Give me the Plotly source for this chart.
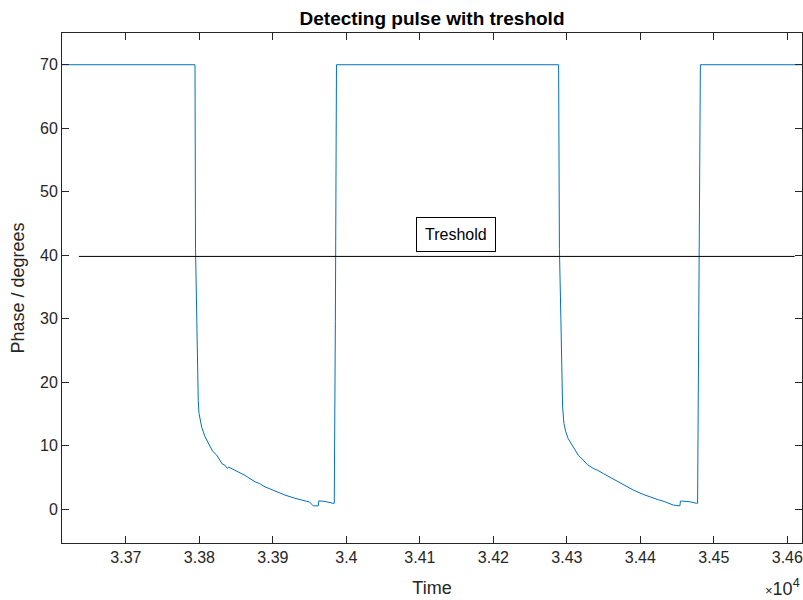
import plotly.graph_objects as go

# ---- data ----
time = [33600, 33794.0, 33794.7, 33796.3, 33797.6, 33798.4, 33799.4, 33801.0, 33803.1, 33807.6,
        33814.4, 33818.0, 33823.5, 33829.0, 33831.0, 33834.8, 33838.0, 33840.0, 33848.4, 33855.0,
        33862.0, 33875.6, 33882.0, 33889.2, 33902.8, 33916.4, 33930.0, 33937.0, 33943.6, 33950.0,
        33954.9, 33961.7, 33962.5, 33964.0, 33970.8, 33982.1, 33983.5, 33985.0, 33986.5,
        34288.8, 34289.9, 34291.9, 34292.9, 34294.2, 34296.0, 34298.5, 34301.8, 34311.0, 34316.0,
        34322.2, 34328.0, 34335.9, 34342.0, 34349.5, 34363.1, 34370.0, 34376.7, 34390.3, 34403.9,
        34417.5, 34425.0, 34433.4, 34444.7, 34453.8, 34454.6, 34456.1, 34467.4, 34476.5, 34477.9,
        34479.5, 34481.7, 34640]
phase = [70.0, 70.0, 41.0, 30.0, 20.3, 17.1, 15.1, 13.8, 12.9, 11.4,
         9.8, 9.1, 8.5, 7.4, 7.1, 6.9, 6.4, 6.6, 6.1, 5.8,
         5.3, 4.3, 4.0, 3.5, 2.8, 2.2, 1.7, 1.5, 1.3, 1.1,
         0.5, 0.5, 1.3, 1.3, 1.2, 0.9, 0.9, 29.5, 70.0,
         70.0, 41.0, 30.0, 20.3, 16.1, 13.5, 12.2, 11.1, 9.3, 8.4,
         7.7, 7.0, 6.4, 6.1, 5.6, 4.7, 4.3, 3.8, 3.0, 2.3,
         1.7, 1.45, 1.15, 0.63, 0.5, 1.26, 1.26, 1.15, 0.9, 0.9,
         30.0, 70.0, 70.0]

thresh_time = [33636, 34610]
thresh_value = [39.8, 39.8]

xtick_vals = [33700, 33800, 33900, 34000, 34100, 34200, 34300, 34400, 34500, 34600]
xtick_text = ["3.37", "3.38", "3.39", "3.4", "3.41", "3.42", "3.43", "3.44", "3.45", "3.46"]
ytick_vals = [0, 10, 20, 30, 40, 50, 60, 70]

label_time, label_value, label_text = 34149, 43.3, "Treshold"

FONT = "Liberation Sans, Arial, Helvetica, sans-serif"
AX = "#262626"

fig = go.Figure()
fig.add_trace(go.Scatter(x=time, y=phase, mode="lines",
                         line=dict(color="#0072BD", width=1), showlegend=False))
fig.add_trace(go.Scatter(x=thresh_time, y=thresh_value, mode="lines",
                         line=dict(color="#000000", width=1), showlegend=False))

fig.add_annotation(x=label_time, y=label_value, text=label_text, showarrow=False,
                   font=dict(family=FONT, size=16, color="#000000"),
                   bordercolor="#000000", borderwidth=1, borderpad=8,
                   bgcolor="white")
fig.add_annotation(x=1.0, y=0, xref="paper", yref="paper", xanchor="right", yanchor="bottom",
                   yshift=-58, text="<span style='font-size:13px'>×</span>10<sup>4</sup>",
                   showarrow=False,
                   font=dict(family=FONT, size=18, color=AX))

axis_common = dict(showline=True, linecolor=AX, linewidth=1, mirror="ticks",
                   ticks="inside", ticklen=7, tickcolor=AX, tickwidth=1,
                   showgrid=False, zeroline=False,
                   tickfont=dict(family=FONT, size=16, color=AX))

fig.update_xaxes(range=[33613, 34620], tickmode="array", tickvals=xtick_vals,
                 ticktext=xtick_text,
                 title=dict(text="Time", font=dict(family=FONT, size=18, color=AX), standoff=16),
                 **axis_common)
fig.update_yaxes(range=[-5.35, 75], tickmode="array", tickvals=ytick_vals,
                 title=dict(text="Phase / degrees", font=dict(family=FONT, size=18, color=AX), standoff=10),
                 **axis_common)

fig.update_layout(
    width=803, height=600,
    margin=dict(l=62, r=1, t=33, b=57),
    paper_bgcolor="white", plot_bgcolor="white",
    title=dict(text="<b>Detecting pulse with treshold</b>", x=0.538, xanchor="center",
               y=0.97, yanchor="middle",
               font=dict(family=FONT, size=19, color="#000000")),
)

fig.write_html("out.html")
